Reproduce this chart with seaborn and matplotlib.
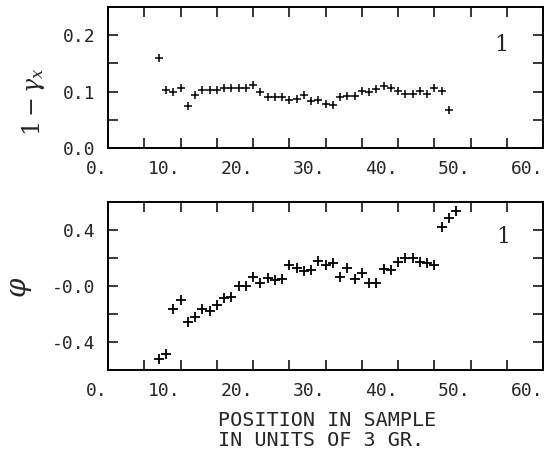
import matplotlib
matplotlib.use("Agg")
import matplotlib.pyplot as plt
import seaborn as sns

# position in sample (units of 3 gr.)
pos_top = [7, 8, 9, 10, 11, 12, 13, 14, 15, 16, 17, 18, 19, 20, 21, 22, 23, 24, 25, 26, 27,
           28, 29, 30, 31, 32, 33, 34, 35, 36, 37, 38, 39, 40, 41, 42, 43, 44, 45, 46, 47]
one_minus_gamma = [0.160, 0.103, 0.100, 0.106, 0.075, 0.094, 0.103, 0.103, 0.103, 0.107,
                   0.106, 0.106, 0.106, 0.111, 0.100, 0.091, 0.091, 0.091, 0.085, 0.086,
                   0.094, 0.084, 0.085, 0.078, 0.077, 0.090, 0.092, 0.093, 0.101, 0.100,
                   0.104, 0.110, 0.107, 0.101, 0.095, 0.096, 0.101, 0.095, 0.106, 0.101,
                   0.068]

pos_bottom = [7, 8, 9, 10, 11, 12, 13, 14, 15, 16, 17, 18, 19, 20, 21, 22, 23, 24, 25, 26, 27,
              28, 29, 30, 31, 32, 33, 34, 35, 36, 37, 38, 39, 40, 41, 42, 43, 44, 45, 46, 47, 48]
phi = [-0.521, -0.488, -0.164, -0.100, -0.257, -0.224, -0.164, -0.176, -0.136, -0.083,
       -0.076, 0.000, 0.000, 0.062, 0.024, 0.057, 0.043, 0.047, 0.150, 0.126,
       0.110, 0.114, 0.181, 0.150, 0.167, 0.062, 0.126, 0.048, 0.090, 0.024,
       0.024, 0.121, 0.114, 0.169, 0.202, 0.198, 0.169, 0.167, 0.150, 0.424,
       0.483, 0.538]

x_major = [0, 10, 20, 30, 40, 50, 60]
x_minor = [5, 15, 25, 35, 45, 55]
x_labels = ["0.", "10.", "20.", "30.", "40.", "50.", "60."]

top_ticks = [0.0, 0.1, 0.2]
top_minor = [0.05, 0.15]
top_labels = ["0.0", "0.1", "0.2"]

bottom_ticks = [-0.4, 0.0, 0.4]
bottom_minor = [-0.2, 0.2]
bottom_labels = ["-0.4", "-0.0", "0.4"]

sns.set_style("ticks")
plt.rcParams["font.family"] = ["DejaVu Sans Mono", "DejaVu Sans"]
plt.rcParams["mathtext.fontset"] = "dejavuserif"


def style_axes(ax, ylim, yticks, yminor, ylabels):
    ax.set_xlim(0, 60)
    ax.set_ylim(*ylim)
    ax.set_xticks(x_major)
    ax.set_xticklabels(x_labels, ha="right")
    ax.set_xticks(x_minor, minor=True)
    ax.set_yticks(yticks)
    ax.set_yticklabels(ylabels)
    ax.set_yticks(yminor, minor=True)
    ax.tick_params(which="both", direction="in", top=True, right=True,
                   length=7, width=1.1, color="black")
    ax.tick_params(which="major", pad=9, labelsize=13)
    for s in ax.spines.values():
        s.set_linewidth(1.4)
        s.set_color("black")
    ax.set_xlabel("")


fig = plt.figure(figsize=(5.45, 4.54), dpi=100)
ax1 = fig.add_axes([108 / 545, 1 - 148 / 454, 435 / 545, 141 / 454])
ax2 = fig.add_axes([108 / 545, 1 - 370 / 454, 435 / 545, 168 / 454])

sns.scatterplot(x=pos_top, y=one_minus_gamma, marker="+", s=28, color="black",
                linewidth=1.1, ax=ax1, legend=False)
sns.scatterplot(x=pos_bottom, y=phi, marker="+", s=50, color="black",
                linewidth=1.3, ax=ax2, legend=False)

style_axes(ax1, (0, 0.25), top_ticks, top_minor, top_labels)
style_axes(ax2, (-0.6, 0.6), bottom_ticks, bottom_minor, bottom_labels)

ax1.set_ylabel(r"$1-\gamma_x$", fontsize=17, va="center")
ax1.yaxis.set_label_coords(-0.172, 0.33)
ax2.set_ylabel(r"$\varphi$", fontsize=20, va="center")
ax2.yaxis.set_label_coords(-0.202, 0.49)

ax1.text(54.3, 0.182, "1", fontsize=16, family="DejaVu Serif", ha="center", va="center")
ax2.text(54.5, 0.352, "1", fontsize=16, family="DejaVu Serif", ha="center", va="center")

fig.text(218 / 545, 1 - 411 / 454, "POSITION IN SAMPLE\nIN UNITS OF 3 GR.",
         fontsize=14.5, ha="left", va="top", linespacing=1.05)

fig.savefig("out.png", dpi=100)
